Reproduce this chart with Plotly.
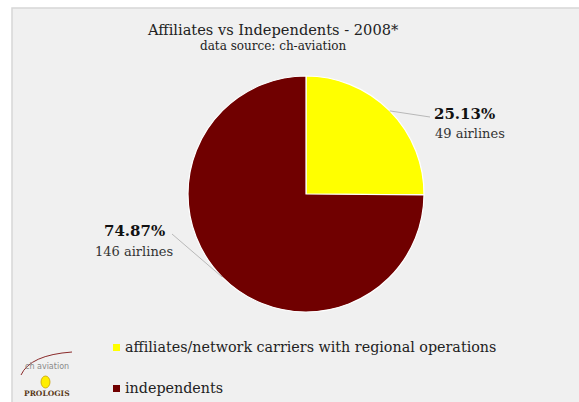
import math
import plotly.graph_objects as go

# Chart data
categories = ["affiliates/network carriers with regional operations", "independents"]
shares = [25.13, 74.87]
airlines = [49, 146]
colors = ["#ffff00", "#700000"]

W, H = 579, 402
SERIF = "DejaVu Serif, Liberation Serif, serif"

# pie placement in pixels
cx, cy, r = 306, 194, 118
dom_x = [(cx - r) / W, (cx + r) / W]
dom_y = [(H - (cy + r)) / H, (H - (cy - r)) / H]

fig = go.Figure()
fig.add_trace(go.Pie(
    labels=categories,
    values=shares,
    sort=False,
    direction="clockwise",
    rotation=0,
    marker=dict(colors=colors, line=dict(color="white", width=1.2)),
    textinfo="none",
    hoverinfo="skip",
    showlegend=False,
    domain=dict(x=dom_x, y=dom_y),
))

def px(x):
    return x / W

def py(y):
    return 1 - y / H

shapes = [
    # panel
    dict(type="rect", xref="paper", yref="paper", x0=px(12), x1=px(W + 2), y0=py(H + 2), y1=py(8),
         fillcolor="#f0f0f0", line=dict(color="#d6d6d6", width=1.5), layer="below"),
]
annotations = []

# slice labels with leader lines from the middle of each arc
label_pos = [(432, 114, "left"), (172, 231, "right")]
total = sum(shares)
start = 0.0
for i, v in enumerate(shares):
    mid = (start + v / 2) / total * 2 * math.pi
    start += v
    ex, ey = cx + r * math.sin(mid), cy - r * math.cos(mid)
    lx, ly, side = label_pos[i]
    shapes.append(dict(type="line", xref="paper", yref="paper", x0=px(ex), y0=py(ey),
                       x1=px(lx - 2 if side == "left" else lx), y1=py(ly + 3),
                       line=dict(color="#b8b8b8", width=1)))
    tx = lx if side == "left" else lx - 38
    annotations.append(dict(xref="paper", yref="paper", x=px(tx), y=py(ly),
                            text=f"<b>{v:.2f}%</b>", showarrow=False,
                            xanchor="left" if side == "left" else "center", yanchor="middle",
                            font=dict(family=SERIF, size=15, color="#111")))
    annotations.append(dict(xref="paper", yref="paper", x=px(tx + (1 if side == "left" else 0)), y=py(ly + 20),
                            text=f"{airlines[i]} airlines", showarrow=False,
                            xanchor="left" if side == "left" else "center", yanchor="middle",
                            font=dict(family=SERIF, size=13, color="#333")))

# titles
annotations.append(dict(xref="paper", yref="paper", x=px(273), y=py(30), text="Affiliates vs Independents - 2008*",
                        showarrow=False, xanchor="center", yanchor="middle",
                        font=dict(family=SERIF, size=14.6, color="#222")))
annotations.append(dict(xref="paper", yref="paper", x=px(273), y=py(46), text="data source: ch-aviation",
                        showarrow=False, xanchor="center", yanchor="middle",
                        font=dict(family=SERIF, size=12, color="#222")))

# legend
for i, name in enumerate(categories):
    y = 347 + i * 41
    shapes.append(dict(type="rect", xref="paper", yref="paper", x0=px(113), x1=px(120),
                       y0=py(y + 4), y1=py(y - 3), fillcolor=colors[i], line=dict(width=0)))
    annotations.append(dict(xref="paper", yref="paper", x=px(123), y=py(y), text=name, showarrow=False,
                            xanchor="left", yanchor="middle",
                            font=dict(family=SERIF, size=14.3, color="#222")))

# logos
shapes.append(dict(type="path", xref="paper", yref="paper",
                   path=f"M {px(21)},{py(375)} Q {px(30)},{py(355)} {px(72)},{py(352)}",
                   line=dict(color="#8a2a2a", width=1)))
annotations.append(dict(xref="paper", yref="paper", x=px(47), y=py(366), text="ch aviation", showarrow=False,
                        xanchor="center", yanchor="middle",
                        font=dict(family="DejaVu Sans, sans-serif", size=8, color="#8a8a8a")))
shapes.append(dict(type="circle", xref="paper", yref="paper", x0=px(41), x1=px(50), y0=py(388), y1=py(376),
                   fillcolor="#ffee00", line=dict(color="#c8a000", width=0.8)))
annotations.append(dict(xref="paper", yref="paper", x=px(47), y=py(393), text="<b>PROLOGIS</b>", showarrow=False,
                        xanchor="center", yanchor="middle",
                        font=dict(family=SERIF, size=7.5, color="#5a3a1a")))

fig.update_layout(
    width=W, height=H,
    margin=dict(l=0, r=0, t=0, b=0),
    paper_bgcolor="white",
    plot_bgcolor="white",
    shapes=shapes,
    annotations=annotations,
)

fig.write_html("out.html")
